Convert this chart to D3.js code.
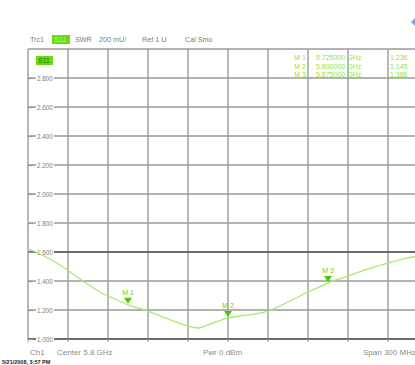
<!DOCTYPE html>
<html>
<head>
<meta charset="utf-8">
<script src="https://cdn.jsdelivr.net/npm/d3@7"></script>
<style>
  html, body { margin: 0; padding: 0; background: #fff; }
  svg { display: block; font-family: "Liberation Sans", Arial, sans-serif; }
</style>
</head>
<body>
<svg id="chart" width="415" height="365"></svg>
<script>
// S11 SWR trace, frequency in GHz
const freqs = [5.650, 5.659, 5.674, 5.689, 5.704, 5.715, 5.725, 5.740, 5.755, 5.770, 5.7775,
               5.785, 5.800, 5.815, 5.830, 5.845, 5.860, 5.875, 5.890, 5.905, 5.920, 5.935, 5.950];
const swr   = [1.621, 1.586, 1.510, 1.414, 1.324, 1.276, 1.236, 1.193, 1.138, 1.090, 1.076,
               1.097, 1.145, 1.166, 1.193, 1.255, 1.324, 1.386, 1.434, 1.483, 1.524, 1.559, 1.586];

// Markers
const markerNames = ["M 1", "M 2", "M 3"];
const markerFreqs = [5.725, 5.800, 5.875];
const markerVals  = [1.236, 1.145, 1.386];

// Axis ticks
const yTicks = [1.0, 1.2, 1.4, 1.6, 1.8, 2.0, 2.2, 2.4, 2.6, 2.8, 3.0];
const yLabelTicks = [1.0, 1.2, 1.4, 1.6, 1.8, 2.0, 2.2, 2.4, 2.6, 2.8];
const xTicks = [5.65, 5.68, 5.71, 5.74, 5.77, 5.80, 5.83, 5.86, 5.89, 5.92, 5.95];
const refValue = 1.6;

const svg = d3.select("#chart");
const plotL = 28, plotR = 428, plotT = 49, plotB = 339;

const x = d3.scaleLinear().domain([5.65, 5.95]).range([plotL, plotR]);
const y = d3.scaleLinear().domain([1.0, 3.0]).range([plotB, plotT]);

const gridColor = "#9a9a9a";
const textGray = "#7a7a7a";
const green = "#8ee44e";

// header line
const hdr = svg.append("g").attr("font-size", 7.2).attr("fill", textGray);
hdr.append("text").attr("x", 30).attr("y", 42).text("Trc1");
hdr.append("rect").attr("x", 52).attr("y", 35).attr("width", 18).attr("height", 9).attr("fill", "#66dd11");
hdr.append("text").attr("x", 54).attr("y", 42).attr("fill", "#b8f090").text("S11");
hdr.append("text").attr("x", 75).attr("y", 42).text("SWR");
hdr.append("text").attr("x", 99).attr("y", 42).text("200 mU/");
hdr.append("text").attr("x", 142).attr("y", 42).text("Ref 1 U");
hdr.append("text").attr("x", 185).attr("y", 42).text("Cal Smo");

// small icon at top right
svg.append("path").attr("d", "M411,22 L415,18 L415,26 Z").attr("fill", "#6aa8e8");

// vertical grid
svg.append("g").selectAll("line").data(xTicks).join("line")
  .attr("x1", d => x(d)).attr("x2", d => x(d))
  .attr("y1", plotT).attr("y2", plotB)
  .attr("stroke", gridColor).attr("stroke-width", 1.4);

// horizontal grid
svg.append("g").selectAll("line").data(yTicks).join("line")
  .attr("x1", plotL).attr("x2", plotR)
  .attr("y1", d => y(d)).attr("y2", d => y(d))
  .attr("stroke", d => (d === refValue || d === 1.0) ? "#6e6e6e" : gridColor)
  .attr("stroke-width", d => (d === refValue || d === 1.0) ? 2 : 1.4);

// bottom ticks
svg.append("g").selectAll("line").data(xTicks).join("line")
  .attr("x1", d => x(d)).attr("x2", d => x(d))
  .attr("y1", plotB).attr("y2", plotB + 3)
  .attr("stroke", gridColor).attr("stroke-width", 1);

// y axis labels
const yAxis = d3.axisRight(y).tickValues(yLabelTicks).tickSize(5).tickPadding(4)
  .tickFormat(d3.format(".3f"));
const ya = svg.append("g").attr("transform", `translate(${plotL},0)`).call(yAxis);
ya.select(".domain").remove();
ya.selectAll(".tick line").attr("stroke", gridColor).attr("stroke-width", 1.2);
ya.selectAll(".tick text").attr("fill", textGray).attr("font-size", 6.3)
  .attr("font-family", "Liberation Sans, Arial, sans-serif");
// label background so the number sits cleanly over the grid line
ya.selectAll(".tick").insert("rect", "text")
  .attr("x", 36 - plotL).attr("y", -3.5).attr("width", 18).attr("height", 7).attr("fill", "#fff");

// trace label box
svg.append("rect").attr("x", 36).attr("y", 56).attr("width", 17).attr("height", 9).attr("fill", "#66dd11");
svg.append("text").attr("x", 38).attr("y", 63).attr("font-size", 7).attr("fill", "#2a6a00").text("S11");

// trace
const line = d3.line().x((d, i) => x(freqs[i])).y(d => y(d)).curve(d3.curveMonotoneX);
svg.append("path").datum(swr).attr("d", line)
  .attr("fill", "none").attr("stroke", "#a6ea70").attr("stroke-width", 1.3);

// markers
const mk = svg.append("g").selectAll("g").data(markerFreqs).join("g")
  .attr("transform", (d, i) => `translate(${x(d)},${y(markerVals[i])})`);
mk.append("path").attr("d", "M-4,-7 L4,-7 L0,-1 Z").attr("fill", "#44cc00");
mk.append("text").attr("x", 0).attr("y", -10).attr("text-anchor", "middle")
  .attr("font-size", 7).attr("fill", "#66d020").text((d, i) => markerNames[i]);

// marker readout table
const fmtF = d3.format(".6f");
const tab = svg.append("g").attr("font-size", 7).attr("fill", green);
markerFreqs.forEach((f, i) => {
  const yy = 60 + i * 8.5;
  tab.append("text").attr("x", 306).attr("y", yy).attr("text-anchor", "end").text(markerNames[i]);
  tab.append("text").attr("x", 316).attr("y", yy).text(fmtF(f) + " GHz");
  tab.append("text").attr("x", 390).attr("y", yy).text(d3.format(".3f")(markerVals[i]));
});

// footer
const ft = svg.append("g").attr("font-size", 8).attr("fill", "#8a8a8a");
ft.append("text").attr("x", 30).attr("y", 355).text("Ch1");
ft.append("text").attr("x", 57).attr("y", 355).text("Center 5.8 GHz");
ft.append("text").attr("x", 203).attr("y", 355).text("Pwr 0 dBm");
ft.append("text").attr("x", 363).attr("y", 355).text("Span 300 MHz");
svg.append("text").attr("x", 2).attr("y", 364).attr("font-size", 5.5).attr("font-weight", "bold")
  .attr("fill", "#222").text("5/21/2008, 3:57 PM");
</script>
</body>
</html>
